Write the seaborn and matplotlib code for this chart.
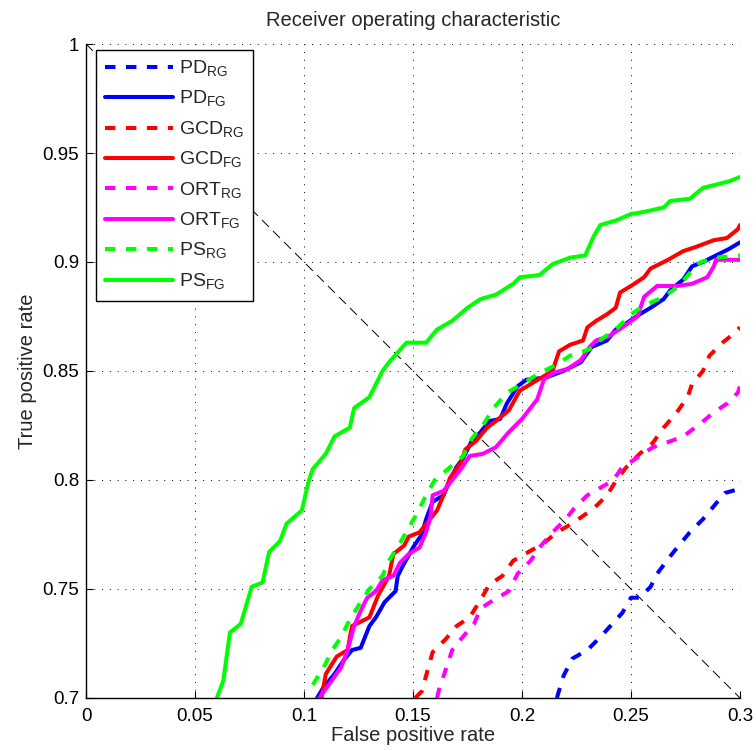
import matplotlib
matplotlib.use("Agg")
import matplotlib.pyplot as plt
import seaborn as sns

# ROC curves (false positive rate, true positive rate)
pd_rg_fpr = [0.216, 0.219, 0.223, 0.230, 0.236, 0.246, 0.250, 0.254, 0.259, 0.262,
             0.268, 0.272, 0.277, 0.283, 0.288, 0.293, 0.300]
pd_rg_tpr = [0.700, 0.710, 0.718, 0.722, 0.728, 0.739, 0.746, 0.746, 0.751, 0.757,
             0.765, 0.770, 0.776, 0.782, 0.788, 0.794, 0.796]

pd_fg_fpr = [0.106, 0.109, 0.114, 0.118, 0.122, 0.126, 0.130, 0.133, 0.137, 0.142,
             0.143, 0.145, 0.150, 0.154, 0.156, 0.159, 0.164, 0.167, 0.170, 0.173,
             0.177, 0.181, 0.185, 0.190, 0.193, 0.198, 0.202, 0.211, 0.219, 0.227,
             0.232, 0.239, 0.243, 0.248, 0.254, 0.259, 0.265, 0.268, 0.274, 0.278,
             0.283, 0.289, 0.295, 0.300]
pd_fg_tpr = [0.700, 0.705, 0.711, 0.717, 0.722, 0.723, 0.733, 0.737, 0.744, 0.749,
             0.756, 0.760, 0.769, 0.775, 0.782, 0.790, 0.793, 0.800, 0.806, 0.810,
             0.818, 0.822, 0.827, 0.828, 0.835, 0.843, 0.846, 0.847, 0.850, 0.854,
             0.861, 0.864, 0.869, 0.872, 0.876, 0.879, 0.883, 0.887, 0.892, 0.898,
             0.900, 0.903, 0.906, 0.909]

gcd_rg_fpr = [0.151, 0.154, 0.159, 0.165, 0.170, 0.176, 0.181, 0.185, 0.191, 0.196,
              0.203, 0.210, 0.216, 0.223, 0.233, 0.239, 0.244, 0.248, 0.254, 0.260,
              0.265, 0.271, 0.276, 0.278, 0.283, 0.286, 0.292, 0.297, 0.300]
gcd_rg_tpr = [0.700, 0.703, 0.721, 0.727, 0.733, 0.737, 0.745, 0.752, 0.756, 0.763,
              0.767, 0.771, 0.776, 0.780, 0.787, 0.793, 0.801, 0.806, 0.812, 0.817,
              0.824, 0.831, 0.838, 0.844, 0.850, 0.857, 0.863, 0.867, 0.870]

gcd_fg_fpr = [0.108, 0.110, 0.115, 0.120, 0.122, 0.130, 0.134, 0.139, 0.141, 0.146,
              0.148, 0.153, 0.157, 0.161, 0.164, 0.167, 0.172, 0.174, 0.179, 0.184,
              0.188, 0.194, 0.199, 0.204, 0.209, 0.214, 0.217, 0.222, 0.228, 0.230,
              0.234, 0.239, 0.243, 0.245, 0.250, 0.256, 0.259, 0.267, 0.274, 0.280,
              0.288, 0.294, 0.299, 0.300]
gcd_fg_tpr = [0.700, 0.711, 0.719, 0.722, 0.733, 0.737, 0.747, 0.756, 0.766, 0.770,
              0.774, 0.776, 0.781, 0.786, 0.793, 0.801, 0.808, 0.814, 0.818, 0.824,
              0.827, 0.832, 0.841, 0.844, 0.847, 0.850, 0.859, 0.862, 0.864, 0.870,
              0.873, 0.876, 0.879, 0.886, 0.889, 0.893, 0.897, 0.901, 0.905, 0.907,
              0.910, 0.911, 0.915, 0.917]

ort_rg_fpr = [0.161, 0.162, 0.165, 0.168, 0.172, 0.178, 0.181, 0.187, 0.194, 0.198,
              0.204, 0.208, 0.214, 0.220, 0.224, 0.230, 0.237, 0.242, 0.246, 0.251,
              0.260, 0.266, 0.274, 0.282, 0.288, 0.294, 0.299, 0.300]
ort_rg_tpr = [0.700, 0.704, 0.713, 0.722, 0.727, 0.734, 0.741, 0.745, 0.749, 0.757,
              0.763, 0.769, 0.776, 0.782, 0.787, 0.793, 0.797, 0.800, 0.806, 0.809,
              0.815, 0.817, 0.820, 0.826, 0.831, 0.835, 0.840, 0.843]

ort_fg_fpr = [0.107, 0.112, 0.117, 0.120, 0.123, 0.126, 0.129, 0.133, 0.136, 0.141,
              0.144, 0.148, 0.153, 0.156, 0.158, 0.159, 0.164, 0.168, 0.172, 0.176,
              0.182, 0.188, 0.194, 0.200, 0.207, 0.210, 0.214, 0.221, 0.227, 0.231,
              0.234, 0.240, 0.246, 0.253, 0.256, 0.262, 0.271, 0.278, 0.285, 0.288,
              0.289, 0.300]
ort_fg_tpr = [0.700, 0.707, 0.714, 0.722, 0.733, 0.740, 0.746, 0.749, 0.754, 0.756,
              0.762, 0.766, 0.769, 0.776, 0.783, 0.793, 0.795, 0.800, 0.805, 0.811,
              0.812, 0.815, 0.822, 0.828, 0.837, 0.846, 0.849, 0.851, 0.855, 0.861,
              0.864, 0.866, 0.870, 0.875, 0.884, 0.889, 0.889, 0.890, 0.893, 0.898,
              0.901, 0.901]

ps_rg_fpr = [0.104, 0.109, 0.113, 0.117, 0.121, 0.126, 0.130, 0.136, 0.139, 0.144,
             0.148, 0.152, 0.156, 0.160, 0.166, 0.173, 0.177, 0.182, 0.187, 0.193,
             0.200, 0.208, 0.216, 0.222, 0.231, 0.237, 0.244, 0.250, 0.256, 0.265,
             0.272, 0.277, 0.282, 0.289, 0.300]
ps_rg_tpr = [0.706, 0.714, 0.722, 0.728, 0.736, 0.744, 0.750, 0.756, 0.763, 0.771,
             0.778, 0.785, 0.793, 0.800, 0.805, 0.811, 0.819, 0.825, 0.833, 0.840,
             0.844, 0.849, 0.853, 0.857, 0.860, 0.865, 0.870, 0.876, 0.880, 0.884,
             0.889, 0.895, 0.900, 0.902, 0.903]

ps_fg_fpr = [0.060, 0.063, 0.066, 0.071, 0.076, 0.081, 0.084, 0.089, 0.092, 0.099,
             0.102, 0.104, 0.110, 0.114, 0.121, 0.123, 0.130, 0.136, 0.139, 0.147,
             0.156, 0.161, 0.168, 0.175, 0.181, 0.188, 0.196, 0.199, 0.208, 0.214,
             0.222, 0.229, 0.233, 0.236, 0.243, 0.250, 0.256, 0.265, 0.268, 0.277,
             0.283, 0.295, 0.300]
ps_fg_tpr = [0.700, 0.708, 0.730, 0.734, 0.751, 0.753, 0.767, 0.772, 0.780, 0.786,
             0.799, 0.805, 0.812, 0.820, 0.824, 0.833, 0.838, 0.850, 0.854, 0.863,
             0.863, 0.869, 0.873, 0.879, 0.883, 0.885, 0.890, 0.893, 0.894, 0.899,
             0.902, 0.903, 0.912, 0.917, 0.919, 0.922, 0.923, 0.925, 0.928, 0.929,
             0.934, 0.937, 0.939]

# equal error rate reference line
eer_fpr = [0.0, 0.3]
eer_tpr = [1.0, 0.7]

series = [
    ("PD", "RG", pd_rg_fpr, pd_rg_tpr, "#0000ff"),
    ("PD", "FG", pd_fg_fpr, pd_fg_tpr, "#0000ff"),
    ("GCD", "RG", gcd_rg_fpr, gcd_rg_tpr, "#ff0000"),
    ("GCD", "FG", gcd_fg_fpr, gcd_fg_tpr, "#ff0000"),
    ("ORT", "RG", ort_rg_fpr, ort_rg_tpr, "#ff00ff"),
    ("ORT", "FG", ort_fg_fpr, ort_fg_tpr, "#ff00ff"),
    ("PS", "RG", ps_rg_fpr, ps_rg_tpr, "#00ff00"),
    ("PS", "FG", ps_fg_fpr, ps_fg_tpr, "#00ff00"),
]

sns.set_style("white")
plt.rcParams['font.family'] = ['Liberation Sans', 'DejaVu Sans']

fig = plt.figure(figsize=(7.56, 7.51), dpi=100)
ax = fig.add_axes([0.1138, 0.0706, 0.8650, 0.8708])

for name, kind, fpr, tpr, col in series:
    ls = (0, (2.6, 2.6)) if kind == "RG" else "-"
    sns.lineplot(x=fpr, y=tpr, ax=ax, color=col, linewidth=2.9, linestyle=ls,
                 estimator=None, sort=False,
                 label=name + r"$_\mathregular{" + kind + "}$")

ax.plot(eer_fpr, eer_tpr, color="black", linewidth=0.7,
        linestyle=(0, (10, 6)), zorder=1)

ax.set_xlim(0, 0.3)
ax.set_ylim(0.7, 1.0)
ax.set_xticks([0, 0.05, 0.1, 0.15, 0.2, 0.25, 0.3])
ax.set_xticklabels(["0", "0.05", "0.1", "0.15", "0.2", "0.25", "0.3"])
ax.set_yticks([0.7, 0.75, 0.8, 0.85, 0.9, 0.95, 1.0])
ax.set_yticklabels(["0.7", "0.75", "0.8", "0.85", "0.9", "0.95", "1"])
ax.tick_params(direction="in", length=5, width=0.8, labelsize=13.5,
               left=True, bottom=True, colors="black")
ax.tick_params(axis="x", pad=7)
ax.tick_params(axis="y", pad=5)
ax.grid(True, color="black", linewidth=0.7, linestyle=(0, (1, 7)))

for side in ["top", "right"]:
    ax.spines[side].set_visible(False)
for side in ["left", "bottom"]:
    ax.spines[side].set_color("black")
    ax.spines[side].set_linewidth(1.0)

ax.set_title("Receiver operating characteristic", fontsize=14.5, pad=13)
ax.set_xlabel("False positive rate", fontsize=14.5, labelpad=1)
ax.set_ylabel("True positive rate", fontsize=14.5, labelpad=4)

leg = ax.legend(loc="upper left", bbox_to_anchor=(0.015, 0.991), borderaxespad=0,
                fontsize=14, handlelength=3.5, handletextpad=0.35,
                labelspacing=0.52, fancybox=False, framealpha=1,
                edgecolor="black", borderpad=0.45)
leg.get_frame().set_linewidth(1.0)

fig.savefig("out.png", dpi=100)
